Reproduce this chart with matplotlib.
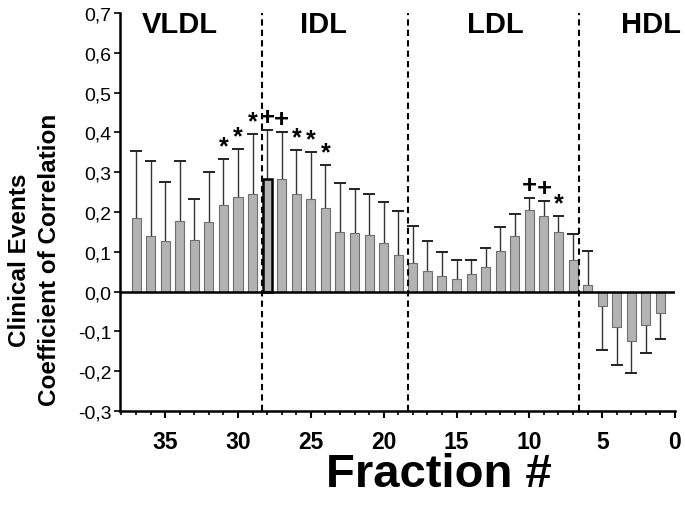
import matplotlib
matplotlib.use('Agg')
import matplotlib.pyplot as plt
from matplotlib.ticker import MultipleLocator, FuncFormatter

plt.rcParams['font.family'] = ['Liberation Sans', 'DejaVu Sans']

# fraction number, correlation coefficient, error (one-sided)
fractions = list(range(37, 0, -1))
values = [0.186, 0.139, 0.128, 0.178, 0.130, 0.175, 0.218, 0.238, 0.246, 0.282,
          0.282, 0.245, 0.233, 0.210, 0.150, 0.146, 0.143, 0.123, 0.092, 0.072,
          0.052, 0.040, 0.032, 0.044, 0.061, 0.103, 0.139, 0.206, 0.190, 0.150,
          0.079, 0.016, -0.036, -0.088, -0.123, -0.083, -0.055]
errors = [0.166, 0.189, 0.148, 0.150, 0.103, 0.125, 0.114, 0.120, 0.149, 0.124,
          0.120, 0.110, 0.118, 0.109, 0.122, 0.111, 0.101, 0.102, 0.110, 0.094,
          0.074, 0.059, 0.047, 0.035, 0.049, 0.058, 0.057, 0.030, 0.038, 0.039,
          0.066, 0.086, 0.112, 0.097, 0.082, 0.071, 0.063]
# significance marks
marks = {31: '*', 30: '*', 29: '*', 28: '+', 27: '+', 26: '*', 25: '*', 24: '*',
         10: '+', 9: '+', 8: '*'}
# class boundaries and class names
boundaries = [28.35, 18.35, 6.6]
classes = ['VLDL', 'IDL', 'LDL', 'HDL']
class_pos = [34.0, 24.1, 12.3, 1.65]

fig = plt.figure(figsize=(6.85, 5.1), dpi=100)
ax = fig.add_axes([0.1752, 0.1922, 0.8102, 0.7804])

bars = ax.bar(fractions, values, width=0.62, color='#b3b3b3',
              edgecolor='#6e6e6e', linewidth=0.8, zorder=2)
# the fraction at the VLDL/IDL border is outlined in black
bars[fractions.index(28)].set_edgecolor('black')
bars[fractions.index(28)].set_linewidth(1.8)

# one-sided error bars (away from zero)
ends = [v + e if v >= 0 else v - e for v, e in zip(values, errors)]
ax.vlines(fractions, values, ends, color='#333333', linewidth=1.0, zorder=1)
ax.hlines(ends, [f - 0.4 for f in fractions], [f + 0.4 for f in fractions],
          color='#222222', linewidth=1.4, zorder=1)

for f, m in marks.items():
    i = fractions.index(f)
    if m == '*':
        ax.text(f, ends[i] + 0.002, m, ha='center', va='bottom',
                fontsize=18, fontweight='bold')
    else:
        ax.text(f, ends[i] + 0.002, m, ha='center', va='bottom',
                fontsize=18.5, fontweight='bold')

ax.axhline(0, color='black', linewidth=1.8, zorder=3)
for b in boundaries:
    ax.axvline(b, color='black', linestyle=(0, (3, 2)), linewidth=1.5, zorder=4)

for name, xpos in zip(classes, class_pos):
    ax.text(xpos, 0.672, name, ha='center', va='center', fontsize=21,
            fontweight='bold', clip_on=False)

ax.set_xlim(38.1, 0)
ax.set_ylim(-0.3, 0.7)
ax.xaxis.set_major_locator(MultipleLocator(5))
ax.xaxis.set_minor_locator(MultipleLocator(1))
ax.yaxis.set_major_locator(MultipleLocator(0.1))
ax.yaxis.set_major_formatter(FuncFormatter(lambda v, p: ('%.1f' % v).replace('.', ',')))

for s in ['top', 'right']:
    ax.spines[s].set_visible(False)
for s in ['left', 'bottom']:
    ax.spines[s].set_linewidth(1.8)

ax.tick_params(axis='x', which='major', length=5, width=1.5, labelsize=16.5, pad=9)
ax.tick_params(axis='x', which='minor', length=3, width=1.2)
ax.tick_params(axis='y', which='major', length=4, width=1.2, labelsize=14, pad=2)
for lab in ax.get_xticklabels():
    lab.set_fontweight('bold')

fig.text(0.641, 0.068, 'Fraction #', ha='center', va='center',
         fontsize=34, fontweight='bold')
fig.text(0.05, 0.49, 'Clinical Events\nCoefficient of Correlation', ha='center',
         va='center', rotation=90, fontsize=17.5, fontweight='bold', linespacing=1.4)

plt.savefig('out.png', dpi=100)
